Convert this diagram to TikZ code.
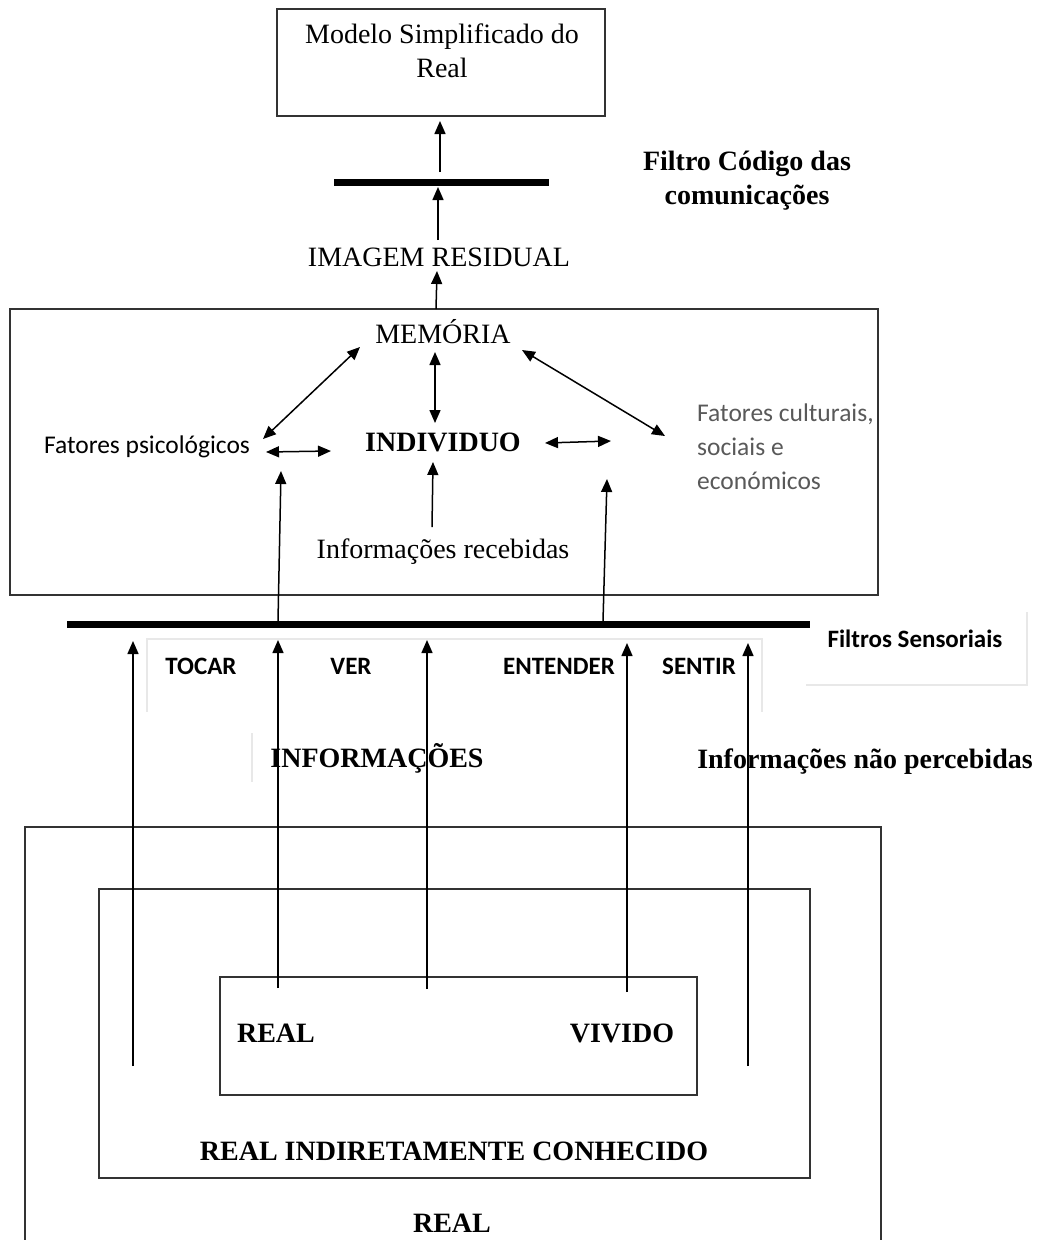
\documentclass[tikz,border=0pt]{standalone}
\usepackage{fontspec}
\setmainfont{Liberation Serif}
\newfontfamily\calib{Carlito}
\usetikzlibrary{arrows.meta}
\begin{document}
\begin{tikzpicture}[x=1pt,y=-1pt,
  conn/.style={line width=1.5pt, draw=black, -{Triangle[length=13pt,width=11pt]}},
  dconn/.style={line width=1.5pt, draw=black, {Triangle[length=13pt,width=11pt]}-{Triangle[length=13pt,width=11pt]}},
  frame/.style={draw=black!80, line width=1.8pt},
  filterbar/.style={line width=7pt, draw=black},
  faint/.style={draw=black!9, line width=1.2pt},
  serif/.style={inner sep=0pt, font=\fontsize{28}{34}\selectfont},
  serifb/.style={inner sep=0pt, font=\fontsize{28}{34}\selectfont\bfseries},
  sansr/.style={inner sep=0pt, font=\calib\fontsize{25.5}{34}\selectfont},
  sansb/.style={inner sep=0pt, font=\calib\fontsize{25}{30}\selectfont\bfseries},
]
\useasboundingbox (0,0) rectangle (1041,1240);

% ---------- simplified model and communication filter ----------
\draw[frame] (277,9) rectangle (605,116);
\node[serif, align=center] (model) at (442,51) {Modelo Simplificado do\\Real};
\coordinate (modelS) at (440,121);

\coordinate (codeL) at (334,182);
\coordinate (codeR) at (549,182);
\draw[filterbar] (codeL) -- (codeR);
\node[serifb, align=center] (filtro) at (747,181) {Filtro Código das\\comunicações};

\coordinate (codeUp) at (440,172);
\coordinate (codeDown) at (438,187);
\draw[conn] (codeUp) -- (modelS);

\node[serif, anchor=base] (img) at (439,266) {IMAGEM RESIDUAL};
\coordinate (imgN) at (438,240);
\coordinate (imgS) at (437,271);
\draw[conn] (imgN) -- (codeDown);

% ---------- individual and its filters ----------
\draw[frame] (10,309) rectangle (878,595);
\coordinate (midN) at (436,309);
\draw[conn] (midN) -- (imgS);

\node[serif, anchor=base] (mem) at (443,343) {MEMÓRIA};
\node[serifb, anchor=base] (ind) at (443,451) {INDIVIDUO};
\node[sansr, anchor=base] (psi) at (147,453) {Fatores psicológicos};
\node[sansr, text=black!65, align=left, anchor=west] (cult) at (697,447)
  {Fatores culturais,\\sociais e\\económicos};
\node[serif, anchor=base] (rec) at (443,558) {Informações recebidas};

\coordinate (memS) at (435,352);
\coordinate (indN) at (435,423);
\coordinate (memW) at (360,347);
\coordinate (psiNE) at (263,439);
\coordinate (memE) at (522,350);
\coordinate (cultNW) at (665,436);
\coordinate (psiE) at (266,452);
\coordinate (indW) at (331,451);
\coordinate (indE) at (545,443);
\coordinate (cultW) at (611,441);
\coordinate (recN) at (432,527);
\coordinate (indS) at (433,462);

\draw[dconn] (memS) -- (indN);
\draw[dconn] (memW) -- (psiNE);
\draw[dconn] (memE) -- (cultNW);
\draw[dconn] (psiE) -- (indW);
\draw[dconn] (indE) -- (cultW);
\draw[conn] (recN) -- (indS);

% ---------- sensory filters ----------
\coordinate (sensL) at (67,624);
\coordinate (sensR) at (810,624);
\draw[faint] (147,712) -- (147,639) -- (762,639) -- (762,712);
\draw[faint] (806,685) -- (1027,685) -- (1027,612);
\draw[faint] (252,733) -- (252,782);
\draw[filterbar] (sensL) -- (sensR);
\node[sansb, anchor=base] (sens) at (915,647) {Filtros Sensoriais};

\coordinate (barL) at (278,621);
\coordinate (barR) at (603,621);
\coordinate (psiS) at (281,471);
\coordinate (cultS) at (607,479);
\draw[conn] (barL) -- (psiS);
\draw[conn] (barR) -- (cultS);

\node[sansb, anchor=base] (tocar) at (201,674) {TOCAR};
\node[sansb, anchor=base] (ver) at (351,674) {VER};
\node[sansb, anchor=base] (entender) at (559,674) {ENTENDER};
\node[sansb, anchor=base] (sentir) at (699,674) {SENTIR};

\node[serifb, anchor=base] (info) at (377,767) {INFORMAÇÕES};
\node[serifb, anchor=base] (naoperc) at (865,768) {Informações não percebidas};

% ---------- layers of the real ----------
\draw[frame] (25,1241) -- (25,827) -- (881,827) -- (881,1241);
\draw[frame] (99,889) rectangle (810,1178);
\draw[frame] (220,977) rectangle (697,1095);

\node[serifb, anchor=base] (realin) at (276,1042) {REAL};
\node[serifb, anchor=base] (vivido) at (622,1042) {VIVIDO};
\node[serifb, anchor=base] (indir) at (454,1160) {REAL INDIRETAMENTE CONHECIDO};
\node[serifb, anchor=base] (realout) at (452,1232) {REAL};

\coordinate (s1) at (133,1066);
\coordinate (s2) at (278,988);
\coordinate (s3) at (427,989);
\coordinate (s4) at (627,992);
\coordinate (s5) at (748,1066);
\coordinate (t1) at (133,641);
\coordinate (t2) at (278,640);
\coordinate (t3) at (427,640);
\coordinate (t4) at (627,643);
\coordinate (t5) at (748,643);
\foreach \i in {1,...,5} \draw[conn] (s\i) -- (t\i);
\end{tikzpicture}
\end{document}
